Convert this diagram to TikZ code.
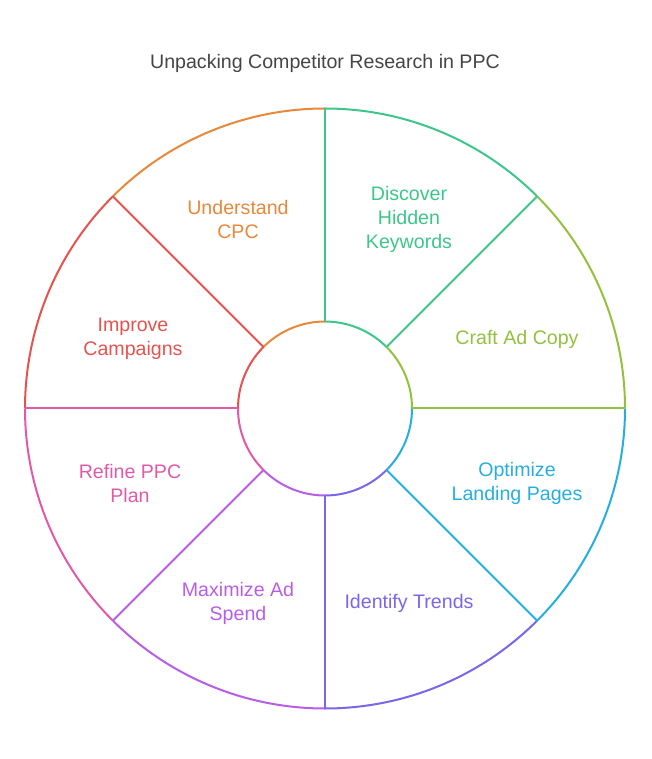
\documentclass[tikz,border=0pt]{standalone}
\usepackage{fontspec}
\setmainfont{Liberation Sans}
\definecolor{cOr}{HTML}{E8883A}
\definecolor{cGr}{HTML}{3DC68A}
\definecolor{cOl}{HTML}{93C13D}
\definecolor{cBl}{HTML}{27AEE0}
\definecolor{cIn}{HTML}{7B65E8}
\definecolor{cVi}{HTML}{B85EE6}
\definecolor{cPk}{HTML}{E05AA9}
\definecolor{cRd}{HTML}{E5534F}
\definecolor{cTi}{HTML}{454545}
\begin{document}
\begin{tikzpicture}[x=1pt,y=1pt,
  seg/.style={line width=2pt},
  lbl/.style={align=center,font=\fontsize{19.6}{24}\selectfont,inner sep=0pt}]
\useasboundingbox (-325,-350.5) rectangle (326,408.5);
\node[lbl,text=cTi] (title) at (0,345.5) {Unpacking Competitor Research in PPC};
\foreach \a in {90,45,0,-45,-90,-135,180,135}{
  \coordinate (i\a) at (\a:87);
  \coordinate (o\a) at (\a:300);
}
% outer and inner arcs
\draw[seg,cOr] (o90) arc[start angle=90,end angle=135,radius=300];
\draw[seg,cGr] (o45) arc[start angle=45,end angle=90,radius=300];
\draw[seg,cOl] (o0) arc[start angle=0,end angle=45,radius=300];
\draw[seg,cBl] (o-45) arc[start angle=-45,end angle=0,radius=300];
\draw[seg,cIn] (o-90) arc[start angle=-90,end angle=-45,radius=300];
\draw[seg,cVi] (o-135) arc[start angle=-135,end angle=-90,radius=300];
\draw[seg,cPk] (o180) arc[start angle=180,end angle=225,radius=300];
\draw[seg,cRd] (o135) arc[start angle=135,end angle=180,radius=300];
\draw[seg,cOr] (i90) arc[start angle=90,end angle=135,radius=87];
\draw[seg,cGr] (i45) arc[start angle=45,end angle=90,radius=87];
\draw[seg,cOl] (i0) arc[start angle=0,end angle=45,radius=87];
\draw[seg,cBl] (i-45) arc[start angle=-45,end angle=0,radius=87];
\draw[seg,cIn] (i-90) arc[start angle=-90,end angle=-45,radius=87];
\draw[seg,cVi] (i-135) arc[start angle=-135,end angle=-90,radius=87];
\draw[seg,cPk] (i180) arc[start angle=180,end angle=225,radius=87];
\draw[seg,cRd] (i135) arc[start angle=135,end angle=180,radius=87];
% dividers
\draw[seg,cGr] (i90) -- (o90);
\draw[seg,cGr] (i45) -- (o45);
\draw[seg,cOl] (i0) -- (o0);
\draw[seg,cBl] (i-45) -- (o-45);
\draw[seg,cIn] (i-90) -- (o-90);
\draw[seg,cVi] (i-135) -- (o-135);
\draw[seg,cPk] (i180) -- (o180);
\draw[seg,cRd] (i135) -- (o135);
% labels
\node[lbl,text=cOr] (l1) at (-87,189.5) {Understand\\CPC};
\node[lbl,text=cGr] (l2) at (84,189.5) {Discover\\Hidden\\Keywords};
\node[lbl,text=cOl] (l3) at (192,69.5) {Craft Ad Copy};
\node[lbl,text=cBl] (l4) at (192,-74.5) {Optimize\\Landing Pages};
\node[lbl,text=cIn] (l5) at (84,-194.5) {Identify Trends};
\node[lbl,text=cVi] (l6) at (-87,-194.5) {Maximize Ad\\Spend};
\node[lbl,text=cPk] (l7) at (-195,-74.5) {Refine PPC\\Plan};
\node[lbl,text=cRd] (l8) at (-192,69.5) {Improve\\Campaigns};
\end{tikzpicture}
\end{document}
